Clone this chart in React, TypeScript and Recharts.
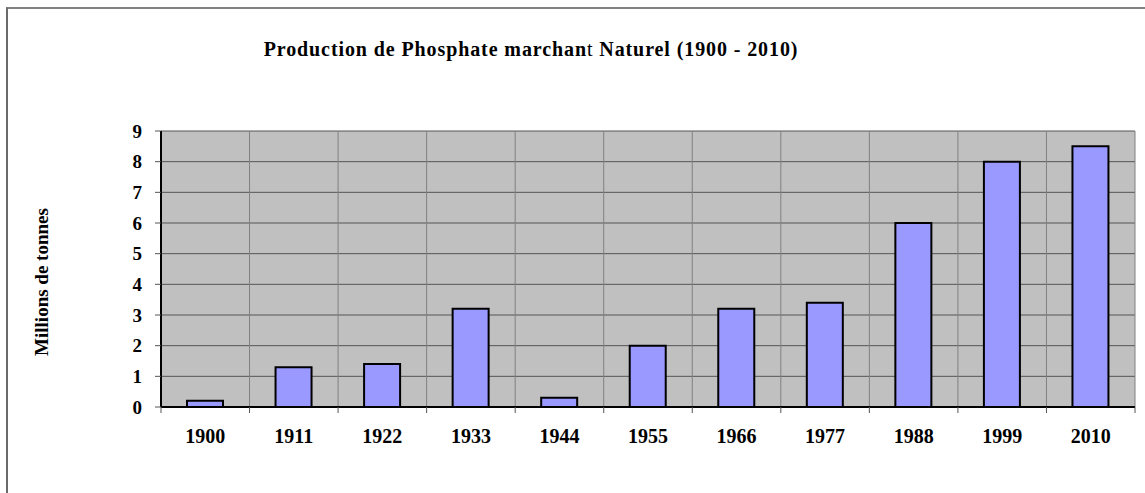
import React from 'react';
import { BarChart, Bar, XAxis, YAxis, CartesianGrid } from 'recharts';

const years = ['1900', '1911', '1922', '1933', '1944', '1955', '1966', '1977', '1988', '1999', '2010'];
const production = [0.2, 1.3, 1.4, 3.2, 0.3, 2.0, 3.2, 3.4, 6.0, 8.0, 8.5];
const yTicks = [0, 1, 2, 3, 4, 5, 6, 7, 8, 9];

const data = years.map((year, i) => ({ year, value: production[i] }));

const FONT = '"Liberation Serif", "DejaVu Serif", serif';
const X_TICK_MARGIN = 22;
const X_TICK_LEN = 6;

const XTick = (props: any) => {
  const { x, y, payload, index } = props;
  const half = payload && payload.offset ? payload.offset : 0;
  const axisY = y - X_TICK_MARGIN;
  const isLast = index === years.length - 1;
  return (
    <g>
      <line x1={x - half} x2={x - half} y1={axisY} y2={axisY + X_TICK_LEN} stroke="#555" strokeWidth={1} />
      {isLast && (
        <line x1={x + half} x2={x + half} y1={axisY} y2={axisY + X_TICK_LEN} stroke="#555" strokeWidth={1} />
      )}
      <text x={x} y={y} dy="0.71em" textAnchor="middle" fontFamily={FONT} fontWeight="bold" fontSize={20} fill="#000">
        {payload.value}
      </text>
    </g>
  );
};

const verticalLines = (args: any) => {
  const off = args && args.offset;
  if (!off) return [];
  const pts: number[] = [];
  for (let i = 0; i <= years.length; i++) {
    pts.push(off.left + (i * off.width) / years.length);
  }
  return pts;
};

export default function App() {
  return (
    <div style={{ position: 'absolute', left: 0, top: 0, width: 1145, height: 493, overflow: 'hidden', background: '#fff' }}>
      <div
        style={{
          position: 'absolute',
          left: 6,
          top: 7,
          width: 1400,
          height: 800,
          borderLeft: '2px solid #6a6a6a',
          borderTop: '2px solid #808080',
        }}
      />
      <div style={{ position: 'absolute', left: 0, top: 0 }}>
        <BarChart width={1145} height={493} data={data} margin={{ top: 131, right: 10, bottom: 56, left: 0 }}>
          <text
            x={531}
            y={56}
            textAnchor="middle"
            fontFamily={FONT}
            fontWeight="bold"
            fontSize={20}
            letterSpacing={0.9}
            fill="#000"
          >
            Production de Phosphate marchan<tspan fontWeight="normal">t</tspan> Naturel (1900 - 2010)
          </text>
          <text
            x={48}
            y={282}
            transform="rotate(-90 48 282)"
            textAnchor="middle"
            fontFamily={FONT}
            fontWeight="bold"
            fontSize={19}
            fill="#000"
          >
            Millions de tonnes
          </text>
          <CartesianGrid horizontal={true} vertical={false} stroke="#555" fill="#C0C0C0" />
          <CartesianGrid
            horizontal={false}
            vertical={true}
            xAxisId="cat"
            stroke="#808080"
            verticalCoordinatesGenerator={verticalLines}
          />
          <XAxis
            xAxisId="cat"
            dataKey="year"
            type="category"
            height={30}
            axisLine={{ stroke: '#000', strokeWidth: 2 }}
            tickLine={false}
            tickSize={0}
            tickMargin={X_TICK_MARGIN}
            interval={0}
            tick={XTick}
          />
          <YAxis
            width={161}
            domain={[0, 9]}
            ticks={yTicks}
            interval={0}
            axisLine={{ stroke: '#000', strokeWidth: 2 }}
            tickLine={{ stroke: '#555' }}
            tickSize={6}
            tickMargin={13}
            tick={{ fill: '#000', fontFamily: FONT, fontWeight: 'bold', fontSize: 19 }}
          />
          <Bar
            xAxisId="cat"
            dataKey="value"
            fill="#9999FF"
            stroke="#000"
            strokeWidth={2}
            barSize={36}
            isAnimationActive={false}
          />
        </BarChart>
      </div>
    </div>
  );
}
